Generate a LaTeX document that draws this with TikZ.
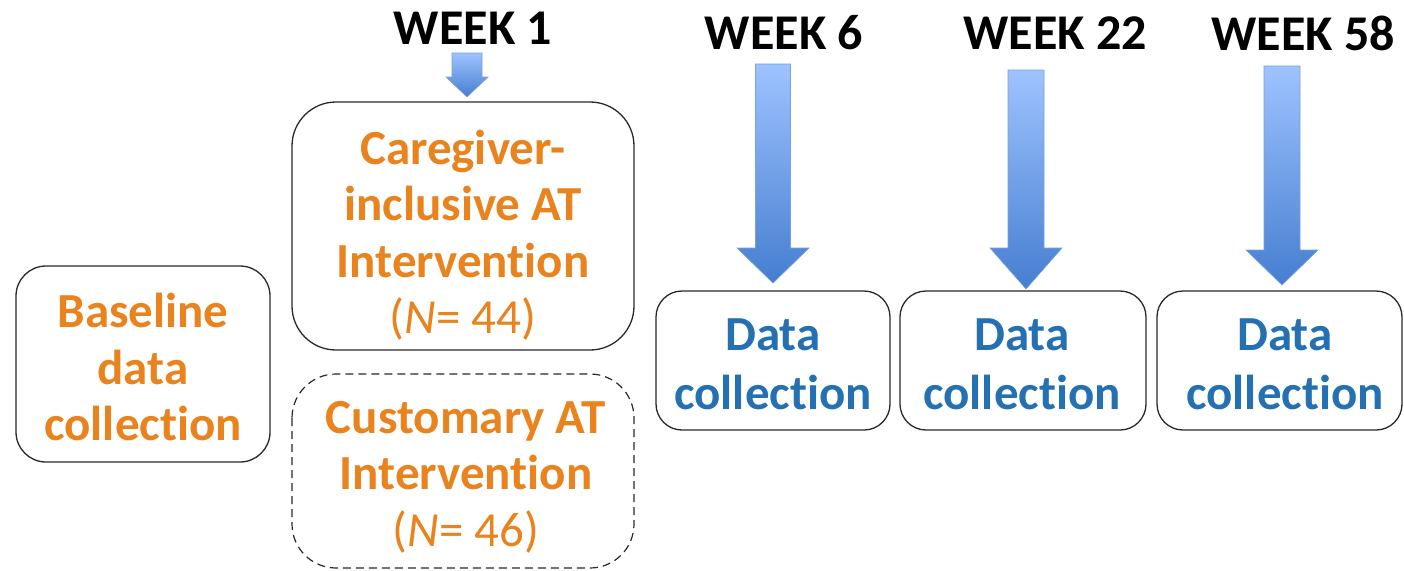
\documentclass[tikz,border=0pt]{standalone}
\usepackage{fontspec}
\setmainfont{Carlito}[Ligatures={NoCommon}]
\usetikzlibrary{calc}
\definecolor{boxorange}{RGB}{232,131,30}
\definecolor{boxblue}{RGB}{37,112,176}
\definecolor{arrtop}{RGB}{158,195,255}
\definecolor{arrbot}{RGB}{70,126,208}
\definecolor{arredge}{RGB}{120,160,220}
\definecolor{frame}{RGB}{40,40,40}
\tikzset{
  stagebox/.style={draw=frame, line width=1.3pt, rounded corners=#1},
  stagebox/.default=28pt,
  orangetext/.style={text=boxorange, align=center, inner sep=0pt,
    font=\bfseries\fontsize{49}{56.5}\selectfont},
  bluetext/.style={text=boxblue, align=center, inner sep=0pt,
    font=\bfseries\fontsize{49}{59}\selectfont},
  weeklabel/.style={text=black, inner sep=0pt,
    font=\bfseries\fontsize{50}{60}\selectfont},
  blockarrow/.style={top color=arrtop, bottom color=arrbot, draw=arredge, line width=0.6pt}
}
% block arrow: top-centre coordinate, shaft half-width, shaft length, head half-width, head length
\newcommand{\blockarrow}[5]{%
  \path[blockarrow] ($(#1)+(-#2,0)$) -- ($(#1)+(#2,0)$) -- ($(#1)+(#2,#3)$)
    -- ($(#1)+(#4,#3)$) -- ($(#1)+(0,#3+#5)$) -- ($(#1)+(-#4,#3)$)
    -- ($(#1)+(-#2,#3)$) -- cycle;}
\begin{document}
\begin{tikzpicture}[x=1pt,y=-1pt]
\useasboundingbox (0,0) rectangle (1404,570);

% stage boxes
\draw[stagebox=30pt] (16,266) rectangle (270,462);
\draw[stagebox=44pt] (292,102) rectangle (634,350);
\draw[stagebox=44pt, dash pattern=on 8pt off 5pt, line width=1.2pt] (292,374) rectangle (634,568);
\draw[stagebox=26pt] (656,291) rectangle (890,430);
\draw[stagebox=26pt] (900,291) rectangle (1146,430);
\draw[stagebox=26pt] (1157,291) rectangle (1402,430);

% box texts
\node[orangetext] (baseline) at (143,367) {Baseline\\data\\collection};
\node[orangetext] (caregiver) at (463,235) {Caregiver-\\inclusive AT\\Intervention\\{\mdseries(\textit{N}= 44)}};
\node[orangetext] (customary) at (466,477) {Customary AT\\Intervention\\{\mdseries(\textit{N}= 46)}};
\node[bluetext] (data6) at (773,364) {Data\\collection};
\node[bluetext] (data22) at (1022,364) {Data\\collection};
\node[bluetext] (data58) at (1285,364) {Data\\collection};

% week labels
\node[weeklabel] (w1) at (473,28) {WEEK 1};
\node[weeklabel] (w6) at (784,33) {WEEK 6};
\node[weeklabel] (w22) at (1055,33) {WEEK 22};
\node[weeklabel] (w58) at (1303,33) {WEEK 58};

% arrows from the week labels down to the boxes
\coordinate (a1) at (467,53);
\coordinate (a6) at (773,64);
\coordinate (a22) at (1026,70);
\coordinate (a58) at (1282,66);
\blockarrow{a1}{15}{24}{21}{20}
\blockarrow{a6}{17.5}{184}{36}{35}
\blockarrow{a22}{18}{178}{36}{41}
\blockarrow{a58}{18}{184}{36}{35}
\end{tikzpicture}
\end{document}
